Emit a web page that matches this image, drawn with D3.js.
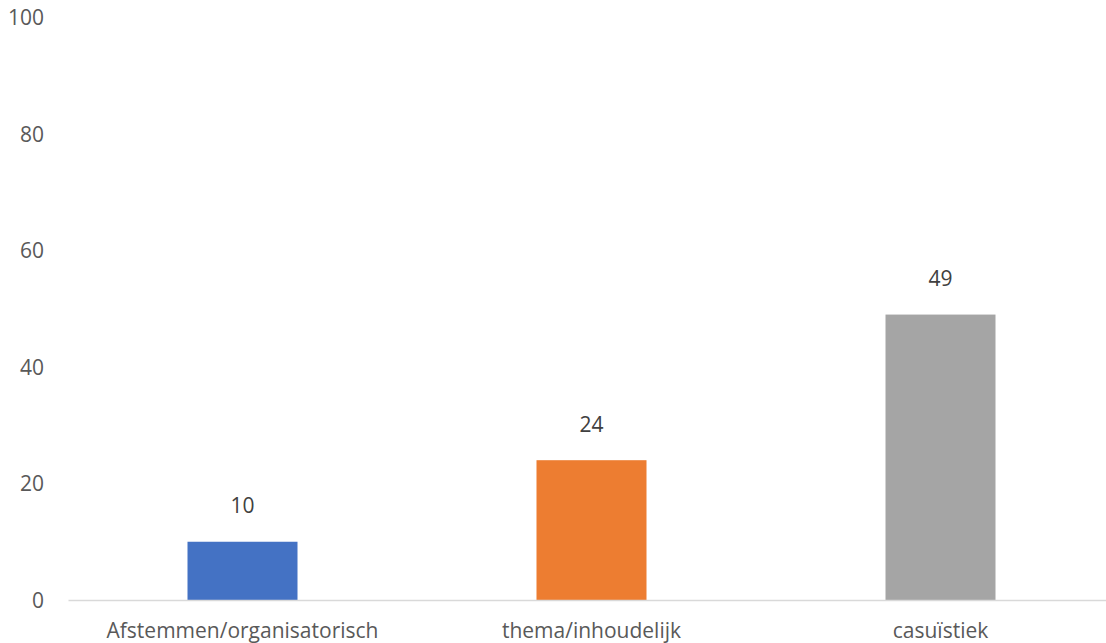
<!DOCTYPE html>
<html>
<head>
<meta charset="utf-8">
<script src="https://cdn.jsdelivr.net/npm/d3@7"></script>
<style>
  html, body { margin: 0; padding: 0; background: #fff; }
  svg { display: block; font-family: "Open Sans", "Noto Sans", sans-serif; }
</style>
</head>
<body>
<svg id="chart" width="1106" height="643"></svg>
<script>
// Categories and counts
const categories = ["Afstemmen/organisatorisch", "thema/inhoudelijk", "casuïstiek"];
const values = [10, 24, 49];
const colors = ["#4472C4", "#ED7D31", "#A5A5A5"];
const yTicks = [0, 20, 40, 60, 80, 100];

const svg = d3.select("#chart");
const plot = { left: 68, right: 1115, top: 17.5, bottom: 600 };
const fontSize = 21;

const x = d3.scaleBand().domain(categories).range([plot.left, plot.right]).paddingInner(0).paddingOuter(0);
const y = d3.scaleLinear().domain([0, 100]).range([plot.bottom, plot.top]);
const barW = 110;

// Y tick labels (no axis line, no gridlines)
svg.append("g")
  .selectAll("text")
  .data(yTicks)
  .join("text")
  .attr("x", 44)
  .attr("y", d => y(d))
  .attr("dy", "0.36em")
  .attr("text-anchor", "end")
  .attr("font-size", fontSize)
  .attr("fill", "#595959")
  .text(d => d);

// Bars
svg.append("g")
  .selectAll("rect")
  .data(values)
  .join("rect")
  .attr("x", (d, i) => x(categories[i]) + x.bandwidth() / 2 - barW / 2)
  .attr("width", barW)
  .attr("y", d => y(d))
  .attr("height", d => y(0) - y(d))
  .attr("fill", (d, i) => colors[i]);

// Category axis
const xAxis = svg.append("g")
  .attr("transform", `translate(0,${plot.bottom})`)
  .call(d3.axisBottom(x).tickSize(0).tickPadding(0));
xAxis.select(".domain").attr("stroke", "#D9D9D9").attr("stroke-width", 1.5);
xAxis.selectAll(".tick text")
  .attr("y", 30)
  .attr("dy", "0.36em")
  .attr("font-size", fontSize)
  .attr("font-family", "\"Open Sans\", \"Noto Sans\", sans-serif")
  .attr("fill", "#595959");

// Value labels above bars
svg.append("g")
  .selectAll("text")
  .data(values)
  .join("text")
  .attr("x", (d, i) => x(categories[i]) + x.bandwidth() / 2)
  .attr("y", d => y(d) - 36)
  .attr("dy", "0.36em")
  .attr("text-anchor", "middle")
  .attr("font-size", fontSize)
  .attr("fill", "#404040")
  .text(d => d);
</script>
</body>
</html>
